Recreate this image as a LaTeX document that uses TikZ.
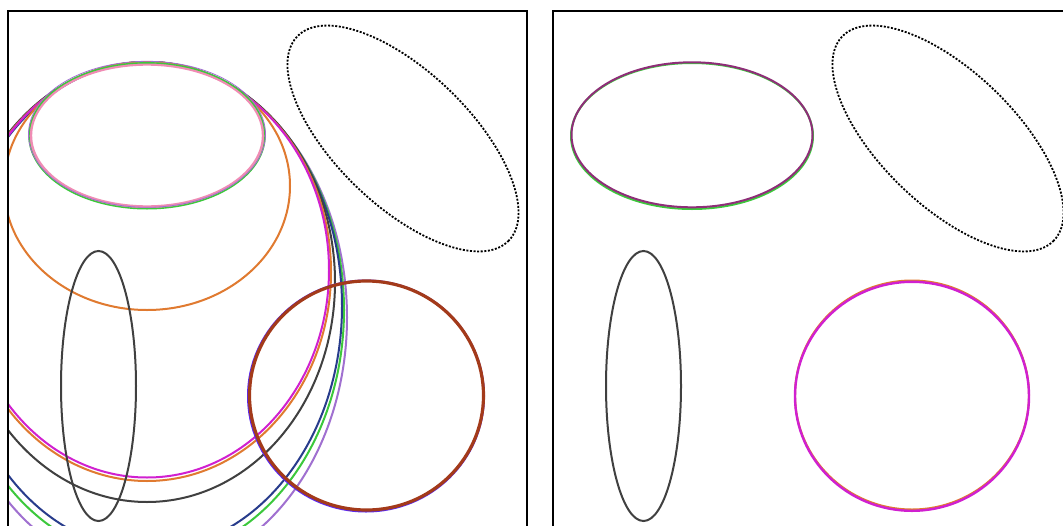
\documentclass[tikz,border=0pt]{standalone}
\usetikzlibrary{calc}
\definecolor{cpink}{HTML}{F08CB4}
\definecolor{cgreen}{HTML}{3CC83C}
\definecolor{clav}{HTML}{A070D0}
\definecolor{cmaroon}{HTML}{8E2E78}
\definecolor{cmag}{HTML}{D020D0}
\definecolor{corange}{HTML}{E07A30}
\definecolor{cgray}{HTML}{404040}
\definecolor{cnavy}{HTML}{283C8C}
\definecolor{cbrown}{HTML}{A33A1A}
\definecolor{cblue}{HTML}{5A28F0}
\tikzset{
  frame/.style={draw=black, line width=2.8pt},
  thin curve/.style={line width=2pt},
  thick curve/.style={line width=3.2pt},
  dotted ellipse/.style={draw=black, line width=1.8pt, dash pattern=on 2pt off 1.6pt},
}
\begin{document}
\begin{tikzpicture}[x=1pt,y=-1pt]
\clip (0,0) rectangle (1063,525);
\fill[white] (0,0) rectangle (1063,525);
% ---------- left panel ----------
\begin{scope}
\clip (8,11) rectangle (527,530);
\draw[thin curve, clav]  (147,317.5) ellipse [x radius=200, y radius=255.5];
\draw[thin curve, cgreen] (147,310) ellipse [x radius=197, y radius=248];
\draw[thin curve, cnavy] (148,306) ellipse [x radius=194, y radius=244];
\draw[thin curve, cgray] (147,282) ellipse [x radius=188, y radius=220];
\draw[thin curve, corange] (147,272) ellipse [x radius=184, y radius=209];
\draw[thin curve, cmag] (147,270) ellipse [x radius=182, y radius=207.5];
\draw[thin curve, corange] (147,186) ellipse [x radius=143, y radius=124];
\draw[line width=3.4pt, cpink] (147,135.5) ellipse [x radius=116.5, y radius=71.5];
\draw[line width=1.4pt, cgreen] (147,135.8) ellipse [x radius=118, y radius=73];
\draw[line width=0.8pt, clav] (147,134.3) ellipse [x radius=118.5, y radius=73];
\draw[thin curve, cgray] (98.5,386) ellipse [x radius=37.5, y radius=135];
\draw[thin curve, cblue] (366,396) ellipse [x radius=118, y radius=115.5];
\draw[thick curve, cbrown] (366.5,395.5) ellipse [x radius=117, y radius=114.5];
\draw[dotted ellipse, rotate around={-44:(403,138.5)}] (403,138.5) ellipse [x radius=147, y radius=67];
\end{scope}
\draw[frame] (8,530) -- (8,11) -- (527,11) -- (527,530);
% ---------- right panel ----------
\draw[thin curve, cgreen] (692,136) ellipse [x radius=121, y radius=73];
\draw[thin curve, cmaroon] (692,134.8) ellipse [x radius=120.5, y radius=72.5];
\draw[dotted ellipse, rotate around={-44:(948,138.5)}] (948,138.5) ellipse [x radius=147, y radius=67];
\draw[thin curve, cgray] (643.5,386) ellipse [x radius=37.5, y radius=135];
\draw[thin curve, corange] (912,395) ellipse [x radius=117, y radius=114.5];
\draw[line width=2.4pt, cmag] (912,396.3) ellipse [x radius=117, y radius=114.5];
\draw[frame] (553,530) -- (553,11) -- (1075,11);
\end{tikzpicture}
\end{document}
